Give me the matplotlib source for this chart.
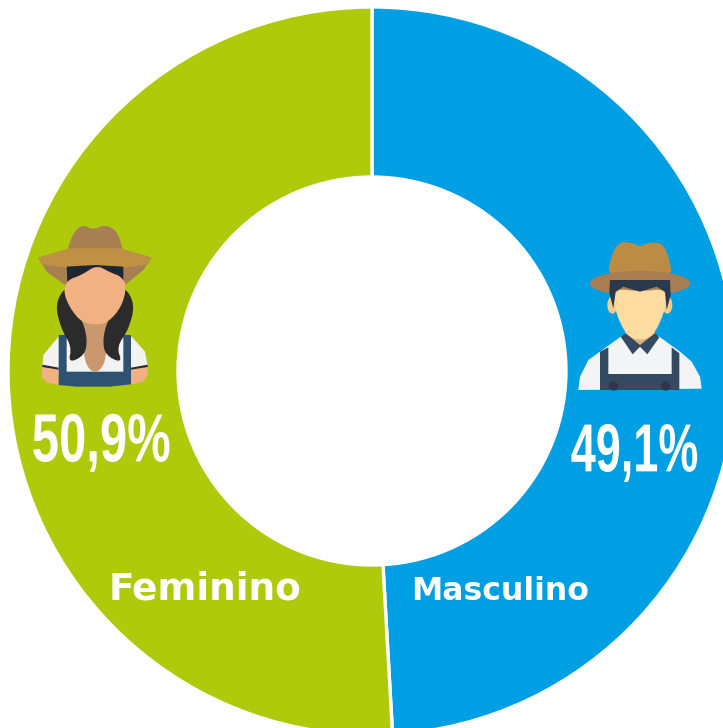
import matplotlib.pyplot as plt
import matplotlib.patheffects as pe
from matplotlib.patches import Ellipse, Polygon
from matplotlib.transforms import Affine2D

W, H = 723, 728

CATEGORIES = ["Masculino", "Feminino"]
SHARES = [49.1, 50.9]
SHARE_LABELS = ["49,1%", "50,9%"]
COLORS = ["#009fe3", "#afca0b"]


class Tall(pe.AbstractPathEffect):
    # stretches the glyphs upward, none of the installed fonts is condensed enough
    def __init__(self, sy, cy):
        super().__init__()
        self.sy = sy
        self.cy = cy

    def draw_path(self, renderer, gc, tpath, affine, rgbFace=None):
        t = affine + Affine2D().translate(0, -self.cy).scale(1, self.sy).translate(0, self.cy)
        renderer.draw_path(gc, tpath, t, rgbFace)


def py(y):
    return H - y


def chaikin(pts, n=2):
    for _ in range(n):
        out = []
        for i, (x0, y0) in enumerate(pts):
            x1, y1 = pts[(i + 1) % len(pts)]
            out.append((0.75 * x0 + 0.25 * x1, 0.75 * y0 + 0.25 * y1))
            out.append((0.25 * x0 + 0.75 * x1, 0.25 * y0 + 0.75 * y1))
        pts = out
    return pts


def poly(ax, pts, color, ox, oy, smooth=False, z=3):
    # icon shapes are traced in 3x zoomed pixels
    if smooth:
        pts = chaikin(pts)
    xy = [(ox + x / 3, py(oy + y / 3)) for x, y in pts]
    ax.add_patch(Polygon(xy, closed=True, fc=color, ec="none", zorder=z))


def ell(ax, cx, cy, w, h, color, ox, oy, z=3):
    ax.add_patch(Ellipse((ox + cx / 3, py(oy + cy / 3)), w / 3, h / 3, fc=color, ec="none", zorder=z))


def draw_woman(ax, ox=10, oy=215):
    poly(ax, [(165, 135), (185, 60), (215, 28), (250, 45), (285, 28), (325, 50), (345, 135)], "#a87f52", ox, oy, True)
    poly(ax, [(85, 128), (180, 100), (330, 100), (425, 128), (400, 165), (345, 210), (165, 210), (110, 170)], "#a87f52", ox, oy)
    poly(ax, [(85, 128), (180, 100), (330, 100), (425, 128), (415, 148), (330, 160), (180, 160), (95, 148)], "#bf9145", ox, oy)
    poly(ax, [(150, 360), (100, 420), (97, 452), (145, 480), (365, 480), (413, 452), (405, 410), (365, 365)], "#f3f3f4", ox, oy)
    poly(ax, [(97, 455), (95, 485), (110, 502), (146, 510), (146, 462)], "#f2b182", ox, oy)
    poly(ax, [(363, 462), (363, 508), (400, 500), (413, 480), (413, 455)], "#f2b182", ox, oy)
    poly(ax, [(97, 449), (146, 458), (146, 464), (97, 456)], "#2b2b2b", ox, oy)
    poly(ax, [(363, 458), (413, 449), (413, 456), (363, 464)], "#2b2b2b", ox, oy)
    poly(ax, [(146, 360), (170, 360), (170, 470), (340, 470), (340, 360), (363, 360), (363, 508),
              (300, 515), (200, 515), (146, 510)], "#2f5273", ox, oy)
    poly(ax, [(215, 300), (295, 300), (290, 410), (280, 455), (255, 475), (230, 455), (220, 410)], "#c9986f", ox, oy, True)
    poly(ax, [(165, 215), (135, 270), (155, 345), (185, 395), (175, 445), (225, 420), (232, 370),
              (215, 310), (175, 250)], "#2b2b2b", ox, oy, True)
    poly(ax, [(345, 215), (375, 270), (355, 345), (320, 395), (337, 445), (285, 420), (278, 370),
              (295, 310), (335, 250)], "#2b2b2b", ox, oy, True)
    poly(ax, [(170, 155), (172, 200), (340, 200), (340, 155), (255, 150)], "#1d2733", ox, oy)
    poly(ax, [(172, 195), (160, 230), (180, 280), (215, 322), (255, 330), (295, 322), (335, 275),
              (350, 215), (335, 185), (300, 172), (260, 150), (215, 180)], "#f2b182", ox, oy, True)


def draw_man(ax, ox=560, oy=230):
    poly(ax, [(140, 150), (155, 70), (180, 35), (215, 38), (240, 50), (265, 38), (305, 38), (325, 75), (340, 150)],
         "#bc8c45", ox, oy, True)
    ell(ax, 240, 160, 302, 75, "#a97d52", ox, oy)
    poly(ax, [(55, 480), (60, 440), (85, 390), (120, 365), (185, 318), (295, 318), (360, 365), (395, 395), (420, 440), (425, 476)],
         "#f3f4f5", ox, oy)
    poly(ax, [(120, 365), (145, 352), (145, 432), (335, 432), (335, 352), (358, 370), (358, 480), (120, 480)],
         "#334a60", ox, oy)
    ell(ax, 160, 468, 28, 28, "#2a3a4e", ox, oy)
    ell(ax, 317, 468, 28, 28, "#2a3a4e", ox, oy)
    poly(ax, [(195, 285), (285, 285), (285, 330), (240, 352), (195, 330)], "#d3b27c", ox, oy)
    poly(ax, [(182, 320), (197, 310), (240, 345), (285, 310), (298, 322), (262, 373), (240, 350), (218, 373)],
         "#334a60", ox, oy)
    ell(ax, 157, 225, 30, 52, "#f5cd8b", ox, oy)
    ell(ax, 322, 225, 30, 52, "#f5cd8b", ox, oy)
    poly(ax, [(160, 175), (165, 240), (190, 300), (215, 325), (240, 330), (265, 325), (290, 300), (315, 240),
              (322, 175), (240, 185)], "#fcdca0", ox, oy, True)
    poly(ax, [(150, 150), (330, 150), (332, 195), (320, 240), (315, 185), (290, 170), (240, 185), (190, 170),
              (167, 185), (160, 235), (148, 190)], "#2a3a4e", ox, oy)


fig = plt.figure(figsize=(W / 100, H / 100), dpi=100)
ax = fig.add_axes([0, 0, 1, 1])
ax.pie(
    SHARES,
    colors=COLORS,
    center=(372, py(371)),
    radius=364,
    startangle=90,
    counterclock=False,
    wedgeprops={"width": 170, "edgecolor": "white", "linewidth": 2.4},
)
ax.set_xlim(0, W)
ax.set_ylim(0, H)
ax.set_aspect("auto")
ax.axis("off")

draw_man(ax)
draw_woman(ax)

pct_font = ["Liberation Sans", "DejaVu Sans"]
ax.text(634.5, py(454), SHARE_LABELS[0], color="white", fontsize=32.4, fontweight="bold", family=pct_font,
        ha="center", va="center", zorder=4, path_effects=[Tall(1.51, py(454))])
ax.text(101, py(444), SHARE_LABELS[1], color="white", fontsize=35.3, fontweight="bold", family=pct_font,
        ha="center", va="center", zorder=4, path_effects=[Tall(1.39, py(444))])

ax.text(500.5, py(591), CATEGORIES[0], color="white", fontsize=22.7, fontweight="bold", ha="center", va="center", zorder=4)
ax.text(205.5, py(589), CATEGORIES[1], color="white", fontsize=26.9, fontweight="bold", ha="center", va="center", zorder=4)

fig.savefig("out.png", dpi=100)
